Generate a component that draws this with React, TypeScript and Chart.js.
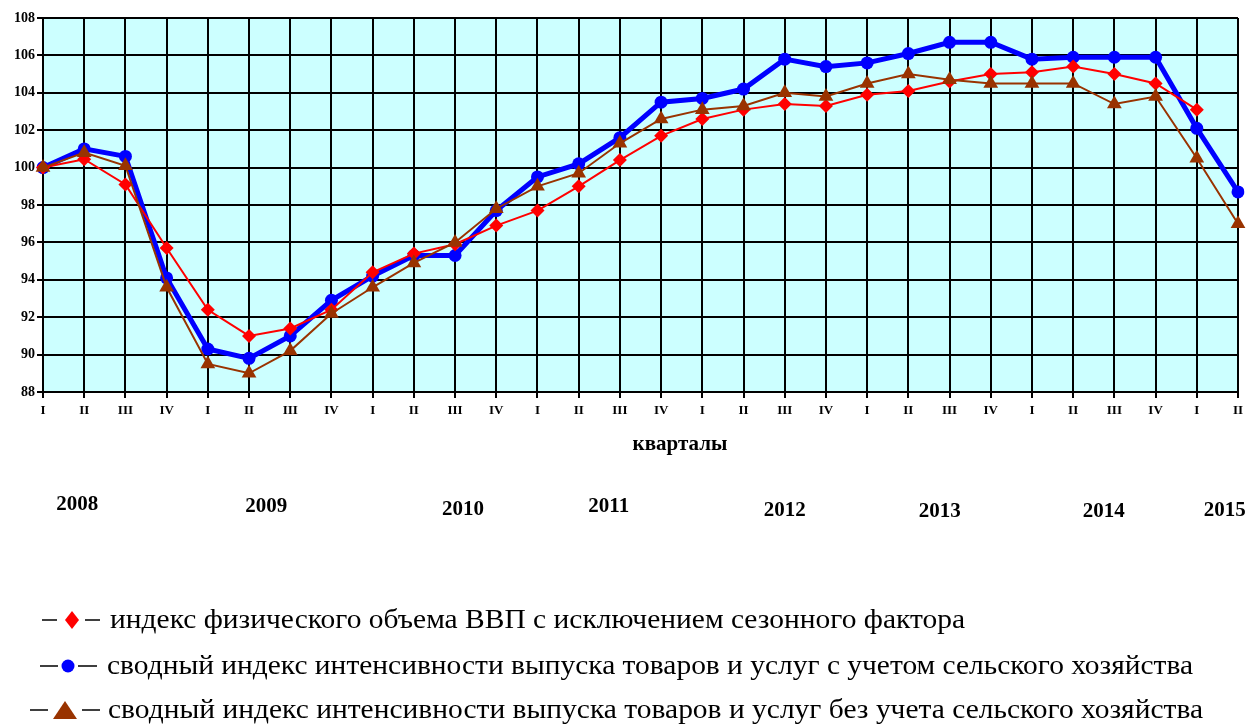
import React, { useEffect, useRef } from "react";
import { Chart, registerables } from "chart.js";

Chart.register(...registerables);

const quarters = [
  "I", "II", "III", "IV", "I", "II", "III", "IV", "I", "II", "III", "IV",
  "I", "II", "III", "IV", "I", "II", "III", "IV", "I", "II", "III", "IV",
  "I", "II", "III", "IV", "I", "II",
];

const gdpIndex = [
  100, 100.45, 99.1, 95.7, 92.4, 91.0, 91.4, 92.4, 94.4, 95.4, 95.9, 96.9,
  97.7, 99.0, 100.4, 101.7, 102.6, 103.1, 103.4, 103.3, 103.9, 104.1, 104.6, 105.0,
  105.1, 105.4, 105.0, 104.5, 103.1, null,
];

const withAgriculture = [
  100, 101.0, 100.6, 94.1, 90.3, 89.8, 91.0, 92.9, 94.2, 95.3, 95.3, 97.7,
  99.5, 100.2, 101.6, 103.5, 103.7, 104.2, 105.8, 105.4, 105.6, 106.1, 106.7, 106.7,
  105.8, 105.9, 105.9, 105.9, 102.1, 98.7,
];

const withoutAgriculture = [
  100, 100.8, 100.1, 93.6, 89.5, 89.0, 90.2, 92.2, 93.6, 94.9, 96.0, 97.8,
  99.0, 99.7, 101.3, 102.6, 103.1, 103.3, 104.0, 103.8, 104.5, 105.0, 104.7, 104.5,
  104.5, 104.5, 103.4, 103.8, 100.5, 97.0,
];

const years = ["2008", "2009", "2010", "2011", "2012", "2013", "2014", "2015"];
// fractional category index where each year caption is centred
const yearAnchors = [0.83, 5.42, 10.19, 13.73, 18.0, 21.76, 25.74, 28.68];
const yearRows = [505, 507, 510, 507, 511, 512, 512, 511];

const legendLabels = [
  "индекс физического объема ВВП с исключением сезонного фактора",
  "сводный индекс интенсивности выпуска товаров и услуг с учетом сельского хозяйства",
  "сводный индекс интенсивности выпуска товаров и услуг без учета сельского хозяйства",
];

const axisTitle = "кварталы";

const RED = "#FF0000";
const BLUE = "#0000FF";
const BROWN = "#993300";
const SERIF = "'Liberation Serif', 'Times New Roman', serif";

const backgroundPlugin = {
  id: "plotBg",
  beforeDraw(chart: any) {
    const { ctx, chartArea } = chart;
    ctx.save();
    ctx.fillStyle = "#CCFFFF";
    ctx.fillRect(chartArea.left, chartArea.top, chartArea.right - chartArea.left, chartArea.bottom - chartArea.top);
    ctx.restore();
  },
};

const extrasPlugin = {
  id: "extras",
  afterDraw(chart: any) {
    const { ctx } = chart;
    const xs = chart.scales.x;
    ctx.save();
    ctx.fillStyle = "#000";
    ctx.textAlign = "center";
    ctx.textBaseline = "middle";
    ctx.font = `bold 21px ${SERIF}`;
    ctx.fillText(axisTitle, 680, 445);
    ctx.font = `bold 21px ${SERIF}`;
    years.forEach((y, i) => {
      ctx.fillText(y, xs.getPixelForValue(yearAnchors[i]), yearRows[i]);
    });

    // legend
    const rows = [
      { y: 620, color: RED, shape: "diamond", d1: [42, 57], m: 72, d2: [85, 100], tx: 110, tw: 855 },
      { y: 666, color: BLUE, shape: "circle", d1: [40, 58], m: 68, d2: [78, 97], tx: 107, tw: 1086 },
      { y: 710, color: BROWN, shape: "triangle", d1: [30, 48], m: 65, d2: [82, 100], tx: 108, tw: 1095 },
    ];
    ctx.textAlign = "left";
    ctx.textBaseline = "middle";
    ctx.font = `28px ${SERIF}`;
    rows.forEach((r, i) => {
      ctx.strokeStyle = "#000";
      ctx.lineWidth = 1.5;
      ctx.beginPath();
      ctx.moveTo(r.d1[0], r.y);
      ctx.lineTo(r.d1[1], r.y);
      ctx.moveTo(r.d2[0], r.y);
      ctx.lineTo(r.d2[1], r.y);
      ctx.stroke();
      ctx.fillStyle = r.color;
      ctx.beginPath();
      if (r.shape === "diamond") {
        ctx.moveTo(r.m, r.y - 9);
        ctx.lineTo(r.m + 7, r.y);
        ctx.lineTo(r.m, r.y + 9);
        ctx.lineTo(r.m - 7, r.y);
        ctx.closePath();
      } else if (r.shape === "circle") {
        ctx.arc(r.m, r.y, 6.5, 0, Math.PI * 2);
      } else {
        ctx.moveTo(r.m, r.y - 9);
        ctx.lineTo(r.m + 12, r.y + 9);
        ctx.lineTo(r.m - 12, r.y + 9);
        ctx.closePath();
      }
      ctx.fill();
      ctx.fillStyle = "#000";
      const w = ctx.measureText(legendLabels[i]).width;
      const sx = w > 0 ? r.tw / w : 1;
      ctx.save();
      ctx.translate(r.tx, r.y + 1);
      ctx.scale(sx, 1);
      ctx.fillText(legendLabels[i], 0, 0);
      ctx.restore();
    });
    ctx.restore();
  },
};

export default function App() {
  const canvasRef = useRef<HTMLCanvasElement | null>(null);

  useEffect(() => {
    document.body.style.margin = "0";
    const canvas = canvasRef.current;
    if (!canvas) return;
    const chart = new Chart(canvas, {
      type: "line",
      data: {
        labels: quarters,
        datasets: [
          {
            label: legendLabels[0],
            data: gdpIndex,
            borderColor: RED,
            backgroundColor: RED,
            borderWidth: 2,
            pointStyle: "rectRot",
            pointRadius: 7,
            pointBorderWidth: 0,
            pointHoverRadius: 7,
            order: 1,
          },
          {
            label: legendLabels[1],
            data: withAgriculture,
            borderColor: BLUE,
            backgroundColor: BLUE,
            borderWidth: 5,
            pointStyle: "circle",
            pointRadius: 6.5,
            pointBorderWidth: 0,
            pointHoverRadius: 6.5,
            order: 2,
          },
          {
            label: legendLabels[2],
            data: withoutAgriculture,
            borderColor: BROWN,
            backgroundColor: BROWN,
            borderWidth: 2,
            pointStyle: "triangle",
            pointRadius: 8.5,
            pointBorderWidth: 0,
            pointHoverRadius: 8.5,
            order: 0,
          },
        ],
      },
      options: {
        responsive: false,
        animation: false,
        events: [],
        layout: { padding: { top: 18, right: 22, left: 0, bottom: 303 } },
        plugins: {
          legend: { display: false },
          tooltip: { enabled: false },
        },
        scales: {
          x: {
            offset: false,
            afterFit(scale: any) {
              scale.height = 30;
            },
            grid: {
              color: "#000",
              lineWidth: 2,
              tickLength: 6,
              tickColor: "#000",
              offset: false,
            },
            border: { display: true, color: "#000", width: 2 },
            ticks: {
              autoSkip: false,
              maxRotation: 0,
              color: "#000",
              padding: 5,
              font: { family: SERIF, size: 13, weight: "bold" },
            },
          },
          y: {
            min: 88,
            max: 108,
            afterFit(scale: any) {
              scale.width = 43;
            },
            grid: {
              color: "#000",
              lineWidth: 2,
              tickLength: 6,
              tickColor: "#000",
            },
            border: { display: true, color: "#000", width: 2 },
            ticks: {
              stepSize: 2,
              color: "#000",
              padding: 2,
              font: { family: SERIF, size: 14, weight: "bold" },
            },
          },
        },
      },
      plugins: [backgroundPlugin, extrasPlugin],
    } as any);
    return () => chart.destroy();
  }, []);

  return (
    <div style={{ width: 1260, height: 725, background: "#fff" }}>
      <canvas ref={canvasRef} width={1260} height={725} style={{ display: "block" }} />
    </div>
  );
}
